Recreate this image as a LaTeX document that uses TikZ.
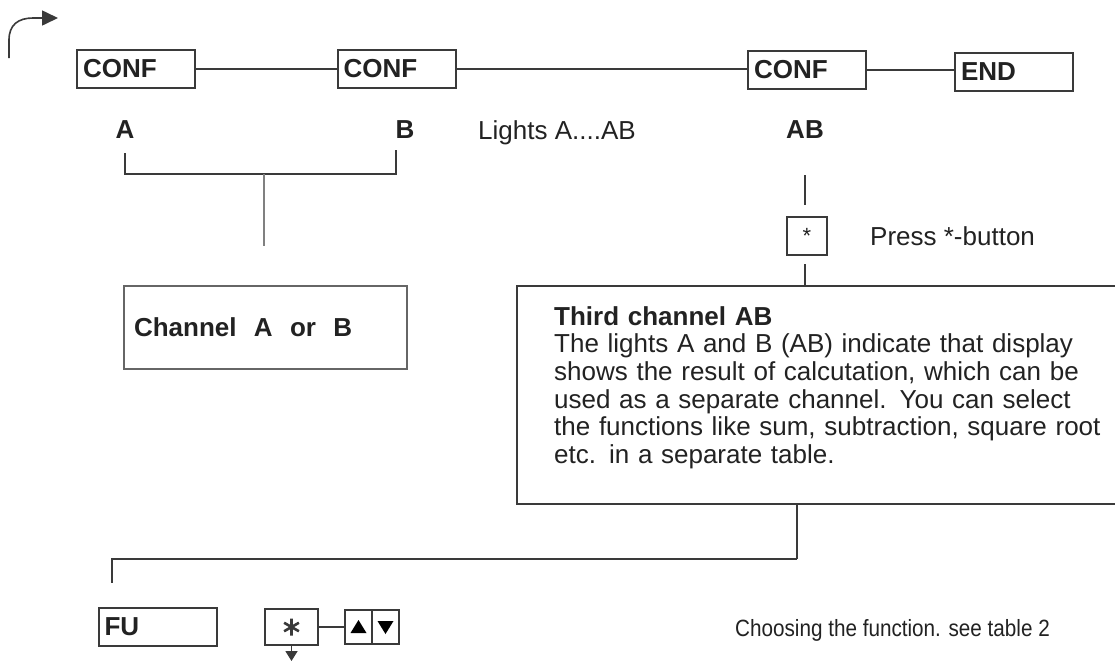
\documentclass[tikz,border=0pt]{standalone}
\usepackage{fontspec}
\setmainfont{Liberation Sans}
\usetikzlibrary{arrows.meta}
\definecolor{ink}{HTML}{222222}
\definecolor{rule}{HTML}{3A3A3A}
\begin{document}
\begin{tikzpicture}[x=1pt,y=-1pt,
  every node/.style={text=ink},
  confbox/.style={draw=rule, line width=2pt, minimum height=38pt, inner xsep=6pt, inner ysep=0pt,
     text width=106pt, align=left, font=\bfseries\fontsize{26}{30}\selectfont},
  label/.style={font=\fontsize{26}{30}\selectfont, inner sep=0pt},
  blabel/.style={font=\bfseries\fontsize{26}{30}\selectfont, inner sep=0pt},
  wire/.style={draw=rule, line width=1.6pt},
  thin/.style={draw=rule, line width=1.3pt},
  smallbox/.style={draw=rule, line width=2pt, inner sep=0pt},
]
\useasboundingbox (0,0) rectangle (1115,662);
\fill[white] (0,0) rectangle (1115,662);

% start arrow
\coordinate (s0) at (9,58);
\coordinate (s1) at (58,18);
\draw[wire, -{Triangle[length=16pt,width=15pt]}] (s0) -- (9,40) .. controls (9,25) and (18,18) .. (33,18) -- (s1);

% top row
\node[confbox] (c1) at (136,69) {CONF};
\node[confbox] (c2) at (396.5,69) {CONF};
\node[confbox] (c3) at (807,70) {CONF};
\node[confbox] (e1) at (1014,72) {END};
\draw[wire] (c1.east) -- (c2.west);
\draw[wire] (c2.east) -- (c2.east -| c3.west);
\draw[wire] (c3.east) -- (c3.east -| e1.west);

% labels
\node[blabel] (la) at (125,130) {A};
\node[blabel] (lb) at (405,130) {B};
\node[label, anchor=base west] (ll) at (478,139) {Lights A....AB};
\node[blabel] (lab) at (805,130) {AB};

% bracket
\coordinate (b1) at (125,153);
\coordinate (b2) at (125,174);
\coordinate (b3) at (396,174);
\coordinate (b4) at (396,150);
\coordinate (bs) at (264,174);
\coordinate (bt) at (264,246);
\draw[thin] (b1) -- (b2) -- (b3) -- (b4);
\draw[thin, draw=gray] (bs) -- (bt);

% channel box
\node[draw=gray!80!black, line width=1.3pt, minimum width=283pt, minimum height=83pt,
      text width=263pt, inner xsep=10pt, align=left, font=\bfseries\fontsize{26}{30}\selectfont]
      (ch) at (265.5,327.5) {Channel\ \ A\ \ or\ \ B};

% AB branch
\coordinate (a1) at (805,175);
\coordinate (a2) at (805,205);
\draw[thin] (a1) -- (a2);
\node[smallbox, minimum width=40pt, minimum height=38pt, font=\fontsize{22}{24}\selectfont] (st) at (807,236) {*};
\node[label, anchor=base west] (press) at (870,245) {Press *-button};
\coordinate (a3) at (805,264);
\coordinate (a4) at (805,286);
\draw[thin] (a3) -- (a4);

% third channel box (open to the right edge)
\coordinate (tb1) at (1120,286);
\coordinate (tb2) at (517,286);
\coordinate (tb3) at (517,504);
\coordinate (tb4) at (1120,504);
\draw[thin] (tb1) -- (tb2) -- (tb3) -- (tb4);
\node[anchor=north west, inner sep=0pt, text width=560pt, align=left,
      font=\fontsize{26}{27.7}\selectfont] (tx) at (554,306)
 {\textbf{Third channel AB}\\
  The lights A and B (AB) indicate that display\\
  shows the result of calcutation, which can be\\
  used as a separate channel. You can select\\
  the functions like sum, subtraction, square root\\
  etc. in a separate table.};

% lower connector
\coordinate (d1) at (797,504);
\coordinate (d2) at (797,559);
\coordinate (d3) at (112,559);
\coordinate (d4) at (112,583);
\draw[thin] (d1) -- (d2);
\draw[thin] (d2) -- (d3) -- (d4);

% bottom row
\node[confbox] (fu) at (157.5,627) {FU};
\node[smallbox, minimum width=53pt, minimum height=36pt] (sb) at (291.5,627) {};
\draw[line width=2.6pt, rule] (sb.center) ++(0,-8.5) -- ++(0,17)
      (sb.center) ++(-7.4,-4.25) -- ++(14.8,8.5)
      (sb.center) ++(-7.4,4.25) -- ++(14.8,-8.5);
\node[smallbox, minimum width=27pt, minimum height=34pt] (up) at (358.5,627) {};
\node[smallbox, minimum width=27pt, minimum height=34pt] (dn) at (385.5,627) {};
\fill[black] (up.center) ++(-8,6) -- ++(16,0) -- ++(-8,-13) -- cycle;
\fill[black] (dn.center) ++(-8,-6) -- ++(16,0) -- ++(-8,13) -- cycle;
\draw[wire] (sb.east) -- (up.west);
\coordinate (ar) at (291.5,661);
\draw[wire, -{Triangle[length=10pt,width=12pt]}] (sb.south) -- (ar);
\node[anchor=base west, inner sep=0pt] (cho) at (735,636)
  {\scalebox{0.88}[1]{\fontsize{23.5}{26}\selectfont Choosing the function. see table 2}};
\end{tikzpicture}
\end{document}
